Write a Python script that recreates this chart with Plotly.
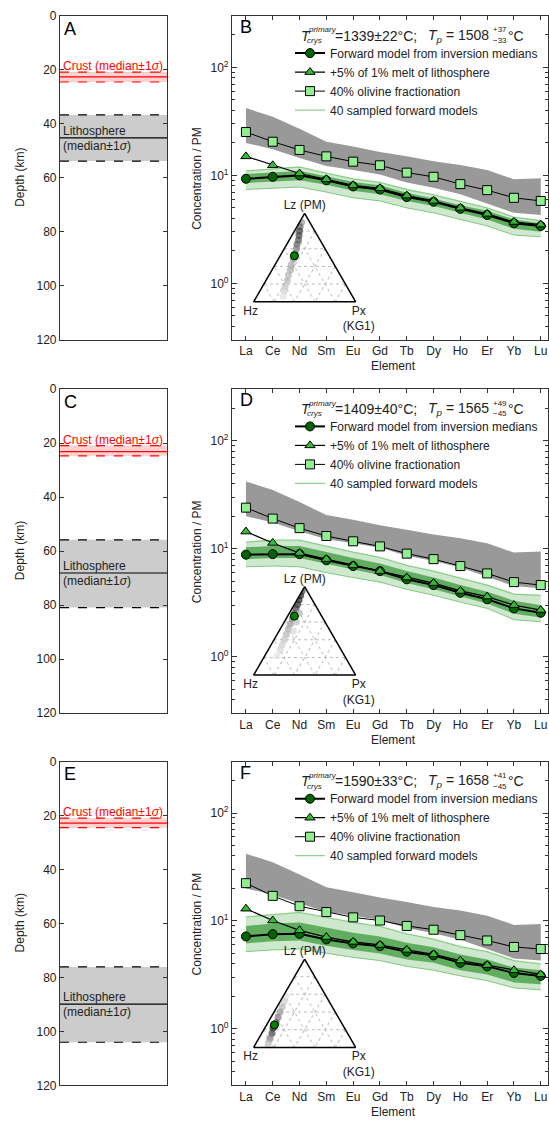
import math
import plotly.graph_objects as go

W, H = 549, 1126
FONT = "Liberation Sans, Arial, Helvetica, sans-serif"
INK = "#222222"
AXC = "#333333"

# ---------------- data ----------------
elements = ["La", "Ce", "Nd", "Sm", "Eu", "Gd", "Tb", "Dy", "Ho", "Er", "Yb", "Lu"]

# observed range (grey band), same in all panels
obs_hi = [42, 35, 27, 20.5, 18.5, 16.5, 15.0, 13.5, 12.5, 11.2, 9.2, 9.4]
obs_lo = [20, 17.5, 14.5, 12.2, 11.2, 10.2, 8.6, 7.7, 6.7, 5.5, 4.5, 4.3]

# panel B
B_median = [9.3, 9.7, 10.0, 9.0, 7.9, 7.4, 6.3, 5.7, 4.9, 4.3, 3.6, 3.4]
B_lith = [15.0, 12.4, 10.4, 9.2, 8.1, 7.6, 6.5, 5.8, 5.0, 4.4, 3.7, 3.5]
B_olv = [25.2, 20.5, 17.2, 15.0, 13.4, 12.4, 10.6, 9.7, 8.3, 7.3, 6.2, 5.8]
B_env_hi = [11.0, 11.5, 12.0, 10.5, 9.3, 8.6, 7.4, 6.6, 5.7, 5.0, 4.1, 3.8]
B_env_lo = [7.4, 7.6, 7.8, 7.0, 6.2, 5.8, 5.0, 4.5, 3.9, 3.4, 2.8, 2.7]
B_core_hi = [10.3, 10.7, 11.0, 9.8, 8.7, 8.1, 6.9, 6.1, 5.3, 4.7, 3.9, 3.6]
B_core_lo = [8.5, 8.8, 9.0, 8.2, 7.2, 6.7, 5.8, 5.2, 4.5, 3.9, 3.2, 3.0]

# panel D
D_median = [8.8, 8.9, 8.9, 7.8, 6.9, 6.2, 5.2, 4.6, 3.9, 3.4, 2.8, 2.55]
D_lith = [14.4, 11.3, 9.1, 8.0, 7.0, 6.2, 5.4, 4.8, 4.06, 3.6, 3.0, 2.7]
D_olv = [24.0, 19.0, 15.5, 13.1, 11.7, 10.5, 9.0, 8.0, 6.9, 5.9, 4.9, 4.6]
D_env_hi = [11.5, 12.0, 12.0, 10.5, 9.3, 8.3, 7.0, 6.2, 5.3, 4.6, 3.8, 3.7]
D_env_lo = [6.8, 6.9, 6.8, 6.0, 5.4, 4.9, 4.2, 3.7, 3.2, 2.8, 2.2, 2.1]
D_core_hi = [10.3, 10.6, 10.6, 9.3, 8.2, 7.3, 6.2, 5.4, 4.6, 4.0, 3.3, 3.0]
D_core_lo = [8.0, 8.2, 8.2, 7.2, 6.4, 5.7, 4.8, 4.2, 3.6, 3.1, 2.5, 2.3]

# panel F
F_median = [7.2, 7.55, 7.6, 6.75, 6.2, 5.85, 5.2, 4.8, 4.1, 3.8, 3.3, 3.1]
F_lith = [13.0, 10.1, 8.2, 7.1, 6.4, 6.0, 5.4, 4.9, 4.3, 3.9, 3.5, 3.2]
F_olv = [22.4, 17.1, 13.7, 12.1, 10.8, 10.1, 9.0, 8.3, 7.4, 6.6, 5.75, 5.5]
F_env_hi = [10.9, 11.5, 12.0, 10.8, 9.7, 8.9, 7.6, 6.8, 5.8, 5.2, 4.3, 4.0]
F_env_lo = [5.2, 5.4, 5.5, 5.0, 4.6, 4.3, 3.8, 3.5, 3.1, 2.8, 2.4, 2.3]
F_core_hi = [9.0, 9.5, 9.7, 8.7, 7.8, 7.2, 6.3, 5.7, 4.9, 4.4, 3.7, 3.5]
F_core_lo = [6.2, 6.5, 6.6, 5.9, 5.4, 5.0, 4.4, 4.1, 3.5, 3.2, 2.7, 2.6]

# depth panels: [upper sigma, median, lower sigma] in km
A_crust = [20.8, 22.6, 24.5]
A_lith = [36.7, 45.2, 53.8]
C_crust = [20.9, 23.1, 24.7]
C_lith = [55.8, 68.1, 80.9]
E_crust = [21.0, 22.8, 24.5]
E_lith = [76.1, 89.9, 104.0]

# temperatures
B_tcrys, B_tp, B_tp_up, B_tp_dn = "1339±22", "1508", "+37", "−33"
D_tcrys, D_tp, D_tp_up, D_tp_dn = "1409±40", "1565", "+49", "−45"
F_tcrys, F_tp, F_tp_up, F_tp_dn = "1590±33", "1658", "+41", "−45"

# ternary inset: sample density cloud (Lz, Hz, Px) and median composition
B_cloud_a = [0.90, 0.85, 0.80, 0.75, 0.70, 0.65, 0.60, 0.55, 0.48, 0.42, 0.36, 0.30, 0.24, 0.18, 0.12, 0.06]
B_cloud_b = [0.08, 0.12, 0.15, 0.18, 0.21, 0.25, 0.28, 0.32, 0.37, 0.42, 0.46, 0.51, 0.55, 0.60, 0.64, 0.68]
B_cloud_c = [0.02, 0.03, 0.05, 0.07, 0.09, 0.10, 0.12, 0.13, 0.15, 0.16, 0.18, 0.19, 0.21, 0.22, 0.24, 0.26]
B_cloud_d = [0.5, 0.7, 0.8, 0.8, 0.75, 0.7, 0.6, 0.55, 0.5, 0.45, 0.45, 0.4, 0.4, 0.35, 0.3, 0.2]
B_fit = [0.52, 0.34, 0.14]

D_cloud_a = [0.95, 0.90, 0.85, 0.80, 0.75, 0.70, 0.64, 0.58, 0.52, 0.46, 0.40, 0.34, 0.28, 0.22, 0.70, 0.60, 0.50]
D_cloud_b = [0.05, 0.09, 0.13, 0.17, 0.21, 0.25, 0.30, 0.35, 0.40, 0.45, 0.50, 0.55, 0.60, 0.66, 0.20, 0.28, 0.36]
D_cloud_c = [0.00, 0.01, 0.02, 0.03, 0.04, 0.05, 0.06, 0.07, 0.08, 0.09, 0.10, 0.11, 0.12, 0.12, 0.10, 0.12, 0.14]
D_cloud_d = [0.8, 0.9, 0.9, 0.85, 0.8, 0.7, 0.6, 0.5, 0.45, 0.4, 0.35, 0.3, 0.25, 0.2, 0.4, 0.35, 0.25]
D_fit = [0.667, 0.267, 0.066]

F_cloud_a = [0.58, 0.52, 0.46, 0.40, 0.34, 0.28, 0.22, 0.16, 0.10, 0.05, 0.02]
F_cloud_b = [0.39, 0.44, 0.49, 0.54, 0.59, 0.64, 0.70, 0.74, 0.79, 0.83, 0.85]
F_cloud_c = [0.03, 0.04, 0.05, 0.06, 0.07, 0.08, 0.08, 0.10, 0.11, 0.12, 0.13]
F_cloud_d = [0.2, 0.3, 0.4, 0.5, 0.6, 0.8, 0.9, 0.8, 0.6, 0.4, 0.3]
F_fit = [0.254, 0.669, 0.077]

# ---------------- helpers ----------------
def px(x):
    return x / W


def py(y):
    return 1 - y / H


rows = [
    dict(top=9, L="A", R="B", crust=A_crust, lith=A_lith, med=B_median, lm=B_lith, olv=B_olv,
         ehi=B_env_hi, elo=B_env_lo, chi=B_core_hi, clo=B_core_lo,
         tc=B_tcrys, tp=B_tp, up=B_tp_up, dn=B_tp_dn,
         ca=B_cloud_a, cb=B_cloud_b, cc=B_cloud_c, cd=B_cloud_d, fit=B_fit),
    dict(top=387, L="C", R="D", crust=C_crust, lith=C_lith, med=D_median, lm=D_lith, olv=D_olv,
         ehi=D_env_hi, elo=D_env_lo, chi=D_core_hi, clo=D_core_lo,
         tc=D_tcrys, tp=D_tp, up=D_tp_up, dn=D_tp_dn,
         ca=D_cloud_a, cb=D_cloud_b, cc=D_cloud_c, cd=D_cloud_d, fit=D_fit),
    dict(top=764, L="E", R="F", crust=E_crust, lith=E_lith, med=F_median, lm=F_lith, olv=F_olv,
         ehi=F_env_hi, elo=F_env_lo, chi=F_core_hi, clo=F_core_lo,
         tc=F_tcrys, tp=F_tp, up=F_tp_up, dn=F_tp_dn,
         ca=F_cloud_a, cb=F_cloud_b, cc=F_cloud_c, cd=F_cloud_d, fit=F_fit),
]

fig = go.Figure()
layout = dict(
    width=W, height=H, autosize=False,
    margin=dict(l=0, r=0, t=0, b=0),
    paper_bgcolor="white", plot_bgcolor="white",
    font=dict(family=FONT, size=12, color=INK),
)
annotations = []
shapes = []

ROWH = 328
minor_vals = [0.3, 0.4, 0.5, 0.6, 0.7, 0.8, 0.9, 2, 3, 4, 5, 6, 7, 8, 9,
              20, 30, 40, 50, 60, 70, 80, 90, 200, 300]


def ann(x, y, text, size=12, color=INK, xa="center", ya="middle", **kw):
    d = dict(xref="paper", yref="paper", x=px(x), y=py(y), text=text, showarrow=False,
             xanchor=xa, yanchor=ya, font=dict(size=size, color=color))
    d.update(kw)
    return d


for i, r in enumerate(rows):
    T = r["top"]
    Bt = T + ROWH
    nl, nr = 2 * i + 1, 2 * i + 2
    sl = "" if nl == 1 else str(nl)
    sr = str(nr)
    ydom = [py(Bt), py(T)]

    # ---- left depth panel ----
    layout["xaxis" + sl] = dict(domain=[px(60), px(167)], range=[0, 1], showticklabels=False,
                                ticks="", showline=True, mirror=True, linecolor=AXC, linewidth=1.2,
                                showgrid=False, zeroline=False, anchor="y" + sl, fixedrange=True)
    layout["yaxis" + sl] = dict(domain=ydom, range=[120, 0], tickvals=[0, 20, 40, 60, 80, 100, 120],
                                ticks="inside", ticklen=4, tickcolor=AXC, mirror="ticks",
                                showline=True, linecolor=AXC, linewidth=1.2, showgrid=False,
                                zeroline=False, anchor="x" + sl, tickfont=dict(size=12, color=INK),
                                fixedrange=True)
    xr, yr = "x" + sl, "y" + sl
    lo, mid, hi = r["lith"]
    shapes.append(dict(type="rect", xref=xr + " domain", yref=yr, x0=0, x1=1, y0=lo, y1=hi,
                       fillcolor="#cccccc", line=dict(width=0), layer="below"))
    for v, d in [(lo, "dash"), (mid, "solid"), (hi, "dash")]:
        shapes.append(dict(type="line", xref=xr + " domain", yref=yr, x0=0, x1=1, y0=v, y1=v,
                           line=dict(color="black", width=1.2, dash=d)))
    clo_, cmid, chi_ = r["crust"]
    shapes.append(dict(type="rect", xref=xr + " domain", yref=yr, x0=0, x1=1, y0=clo_, y1=chi_,
                       fillcolor="rgba(255,90,90,0.28)", line=dict(width=0), layer="below"))
    for v, d in [(clo_, "dash"), (cmid, "solid"), (chi_, "dash")]:
        shapes.append(dict(type="line", xref=xr + " domain", yref=yr, x0=0, x1=1, y0=v, y1=v,
                           line=dict(color="red", width=1.2, dash=d)))
    annotations += [
        dict(xref=xr + " domain", yref=yr, x=0.02, y=clo_, xanchor="left", yanchor="bottom",
             text="Crust (median±1<i>σ</i>)", showarrow=False, font=dict(size=12, color="red"),
             borderpad=0, yshift=-2),
        dict(xref=xr + " domain", yref=yr, x=0.02, y=mid, xanchor="left", yanchor="bottom",
             text="Lithosphere", showarrow=False, font=dict(size=12, color=INK), borderpad=0, yshift=-1),
        dict(xref=xr + " domain", yref=yr, x=0.02, y=mid, xanchor="left", yanchor="top",
             text="(median±1<i>σ</i>)", showarrow=False, font=dict(size=12, color=INK), borderpad=0),
        ann(62, T + 1, r["L"], size=18, color="black", xa="left", ya="top"),
        ann(20, T + ROWH / 2, "Depth (km)", textangle=-90),
    ]

    # ---- right REE panel ----
    layout["xaxis" + sr] = dict(domain=[px(232), px(548)], type="category", categoryorder="array",
                                categoryarray=elements, range=[-0.52, 11.27], ticks="inside",
                                ticklen=4, tickcolor=AXC, mirror="ticks", showline=True, linecolor=AXC,
                                linewidth=1.2, showgrid=False, zeroline=False, anchor="y" + sr,
                                tickfont=dict(size=12, color=INK), fixedrange=True)
    layout["yaxis" + sr] = dict(domain=ydom, type="log", range=[math.log10(0.3), math.log10(300)],
                                tickvals=[1, 10, 100],
                                ticktext=["10<sup>0</sup>", "10<sup>1</sup>", "10<sup>2</sup>"],
                                ticks="inside", ticklen=5, tickcolor=AXC, mirror="ticks", showline=True,
                                linecolor=AXC, linewidth=1.2, showgrid=False, zeroline=False,
                                anchor="x" + sr, tickfont=dict(size=12, color=INK),
                                minor=dict(tickvals=minor_vals, ticks="inside", ticklen=2.5,
                                           tickcolor=AXC, showgrid=False),
                                fixedrange=True)
    xa, ya = "x" + sr, "y" + sr
    lg = "legend" if i == 0 else "legend" + str(i + 1)

    def tr(**kw):
        kw.setdefault("showlegend", False)
        kw.update(xaxis=xa, yaxis=ya, legend=lg)
        fig.add_trace(go.Scatter(**kw))

    tr(x=elements, y=obs_lo, mode="lines", line=dict(width=0, color="#999999"), hoverinfo="skip")
    tr(x=elements, y=obs_hi, mode="lines", line=dict(width=0, color="#999999"), fill="tonexty",
       fillcolor="#999999", hoverinfo="skip")
    tr(x=elements, y=r["elo"], mode="lines", line=dict(width=0), hoverinfo="skip")
    tr(x=elements, y=r["ehi"], mode="lines", line=dict(width=0), fill="tonexty",
       fillcolor="rgba(90,180,90,0.30)", hoverinfo="skip")
    tr(x=elements, y=r["clo"], mode="lines", line=dict(width=0), hoverinfo="skip")
    tr(x=elements, y=r["chi"], mode="lines", line=dict(width=0), fill="tonexty",
       fillcolor="rgba(25,135,25,0.6)", hoverinfo="skip")
    tr(x=elements, y=r["elo"], mode="lines", line=dict(width=1, color="rgba(90,180,90,0.7)"))
    tr(x=elements, y=r["ehi"], mode="lines", line=dict(width=1.3, color="rgba(110,195,110,0.75)"),
       showlegend=True, name="40 sampled forward models", legendrank=4)
    tr(x=elements, y=r["olv"], mode="lines+markers", line=dict(color="black", width=1),
       marker=dict(symbol="square", size=9, color="#90ee90", line=dict(color="black", width=1)),
       showlegend=True, name="40% olivine fractionation", legendrank=3)
    tr(x=elements, y=r["med"], mode="lines+markers", line=dict(color="black", width=2),
       marker=dict(symbol="circle", size=9, color="#006400", line=dict(color="black", width=1)),
       showlegend=True, name="Forward model from inversion medians", legendrank=1)
    tr(x=elements, y=r["lm"], mode="lines+markers", line=dict(color="black", width=1.2),
       marker=dict(symbol="triangle-up", size=9, color="#33bb33", line=dict(color="black", width=1)),
       showlegend=True, name="+5% of 1% melt of lithosphere", legendrank=2)

    layout[lg] = dict(x=px(290), y=py(T + 23), xanchor="left", yanchor="top",
                      bgcolor="rgba(0,0,0,0)", font=dict(size=12, color=INK),
                      itemwidth=30, traceorder="normal")

    # title pieces
    ty = T + 20
    annotations += [
        ann(238, T - 1, r["R"], size=18, color="black", xa="left", ya="top"),
        ann(299, ty, "<i>T</i>", size=14, xa="left"),
        ann(306, ty - 6, "<i>primary</i>", size=8, xa="left"),
        ann(305, ty + 5, "<i>crys</i>", size=8, xa="left"),
        ann(333, ty, "=" + r["tc"] + "°C;", size=14, xa="left"),
        ann(491, ty, "<i>T</i><sub><i>p</i></sub> = " + r["tp"], size=14, xa="right"),
        ann(491, ty - 6, r["up"], size=8, xa="left"),
        ann(491, ty + 5, r["dn"], size=8, xa="left"),
        ann(506, ty, "°C", size=14, xa="left"),
        ann(197, T + ROWH / 2, "Concentration / PM", textangle=-90),
        ann(393, Bt + 27, "Element"),
    ]

    # ---- ternary inset ----
    tn = "ternary" if i == 0 else "ternary" + str(i + 1)
    ax_common = dict(showticklabels=False, ticks="", linecolor="black", linewidth=1.5,
                     showgrid=True, gridcolor="#bbbbbb", griddash="dot", gridwidth=1, dtick=0.2)
    layout[tn] = dict(
        domain=dict(x=[px(253.3), px(356)], y=[py(T + 289.5), py(T + 200)]),
        bgcolor="rgba(0,0,0,0)", sum=1,
        aaxis=dict(title=dict(text="Lz (PM)", font=dict(size=12, color=INK)), **ax_common),
        baxis=dict(title=dict(text="Hz", font=dict(size=12, color=INK)), **ax_common),
        caxis=dict(title=dict(text="Px<br>(KG1)", font=dict(size=12, color=INK)), **ax_common),
    )
    fig.add_trace(go.Scatterternary(a=r["ca"], b=r["cb"], c=r["cc"], mode="markers", subplot=tn,
                                    marker=dict(size=7, color=r["cd"], colorscale="Greys", cmin=0,
                                                cmax=1.0, opacity=0.7, line=dict(width=0)),
                                    showlegend=False, hoverinfo="skip"))
    fig.add_trace(go.Scatterternary(a=[r["fit"][0]], b=[r["fit"][1]], c=[r["fit"][2]], mode="markers",
                                    subplot=tn, marker=dict(size=8, color="#008000",
                                                            line=dict(color="black", width=1)),
                                    showlegend=False, hoverinfo="skip"))

layout["annotations"] = annotations
layout["shapes"] = shapes
fig.update_layout(**layout)
fig.write_html(
    "out.html",
    config={"displayModeBar": False},
    post_script="document.body.style.margin='0';document.body.style.overflow='hidden';"
                "document.documentElement.style.overflow='hidden';",
)
